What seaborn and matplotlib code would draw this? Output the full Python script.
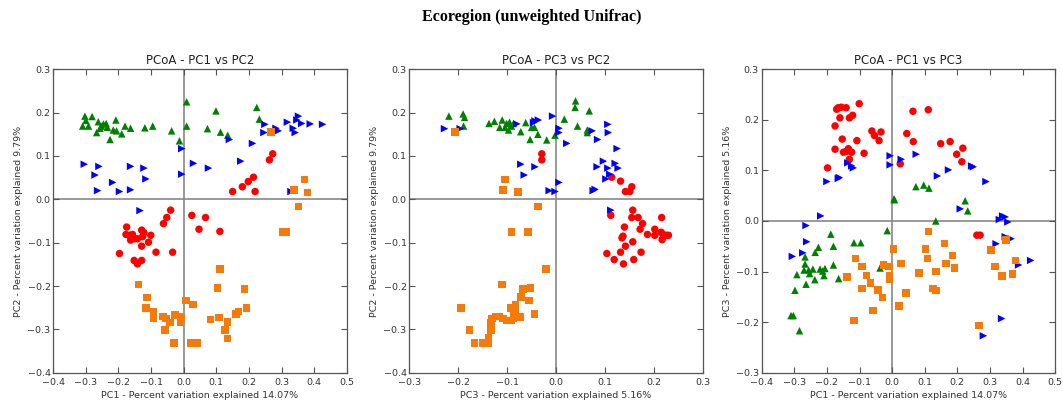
import matplotlib
matplotlib.use("Agg")
import matplotlib.pyplot as plt
import seaborn as sns
import pandas as pd

# ---------------- data ----------------
groups = ["red", "green", "blue", "orange"]
colors = {"red": "#ff0000", "green": "#008000", "blue": "#0000ff", "orange": "#f57a0a"}
markers = {"red": "o", "green": "^", "blue": ">", "orange": "s"}

panel_titles = ["PCoA - PC1 vs PC2", "PCoA - PC3 vs PC2", "PCoA - PC1 vs PC3"]
x_labels = ["PC1 - Percent variation explained 14.07%",
            "PC3 - Percent variation explained 5.16%",
            "PC1 - Percent variation explained 14.07%"]
y_labels = ["PC2 - Percent variation explained 9.79%",
            "PC2 - Percent variation explained 9.79%",
            "PC3 - Percent variation explained 5.16%"]
suptitle = "Ecoregion (unweighted Unifrac)"

# Panel 1: PC1 (x) vs PC2 (y)
p1_green_x = [-0.310, -0.303, -0.300, -0.292, -0.281, -0.267, -0.262, -0.257, -0.252, -0.246, -0.238,
              -0.234, -0.226, -0.216, -0.208, -0.206, -0.190, -0.180, -0.163, -0.119, -0.095, -0.037,
              -0.013, 0.009, 0.009, 0.073, 0.099, 0.113, 0.135, 0.224, 0.232]
p1_green_y = [0.169, 0.192, 0.182, 0.169, 0.191, 0.154, 0.179, 0.164, 0.169, 0.174, 0.175,
              0.166, 0.138, 0.160, 0.183, 0.158, 0.151, 0.169, 0.164, 0.165, 0.169, 0.158,
              0.135, 0.225, 0.169, 0.163, 0.204, 0.155, 0.148, 0.212, 0.185]
p1_blue_x = [-0.305, -0.260, -0.272, -0.264, -0.218, -0.197, -0.163, -0.163, -0.122, -0.116, -0.006,
             -0.006, 0.030, 0.076, 0.140, 0.175, 0.211, 0.246, 0.249, 0.283, 0.290, 0.318, 0.336,
             0.342, 0.347, 0.352, 0.362, 0.388, 0.426, 0.329, -0.134]
p1_blue_y = [0.081, 0.076, 0.056, 0.020, 0.039, 0.018, 0.076, 0.022, 0.072, 0.047, 0.117,
             0.058, 0.083, 0.072, 0.138, 0.088, 0.129, 0.154, 0.173, 0.164, 0.158, 0.178, 0.164,
             0.154, 0.183, 0.192, 0.175, 0.174, 0.173, 0.018, -0.026]
p1_red_x = [0.150, 0.180, 0.198, 0.214, 0.219, 0.263, 0.273, -0.040, -0.052, -0.062, 0.025, 0.067,
            0.047, 0.111, -0.175, -0.177, -0.165, -0.157, -0.163, -0.150, -0.142, -0.129, -0.122,
            -0.126, -0.101, -0.108, -0.129, -0.197, -0.152, -0.142, -0.129, -0.085, -0.034]
p1_red_y = [0.018, 0.029, 0.041, 0.051, 0.018, 0.091, 0.105, -0.025, -0.042, -0.056, -0.037, -0.042,
            -0.069, -0.074, -0.064, -0.081, -0.083, -0.081, -0.094, -0.091, -0.091, -0.071, -0.077,
            -0.086, -0.083, -0.099, -0.108, -0.125, -0.141, -0.149, -0.141, -0.122, -0.122]
p1_orange_x = [0.268, 0.339, 0.370, 0.380, 0.352, 0.304, 0.316, -0.138, -0.112, -0.116, -0.093,
               -0.093, -0.064, -0.055, -0.058, -0.042, -0.026, -0.008, -0.010, -0.030, 0.007, 0.029,
               0.022, 0.042, 0.112, 0.103, 0.109, 0.083, 0.126, 0.135, 0.135, 0.161, 0.168, 0.186, 0.193]
p1_orange_y = [0.155, 0.022, 0.046, 0.016, -0.017, -0.075, -0.075, -0.197, -0.226, -0.251, -0.260,
               -0.275, -0.270, -0.275, -0.301, -0.284, -0.267, -0.272, -0.283, -0.331, -0.233, -0.243,
               -0.331, -0.331, -0.161, -0.205, -0.273, -0.277, -0.302, -0.283, -0.321, -0.265, -0.259,
               -0.207, -0.251]

# Panel 2: PC3 (x) vs PC2 (y)
p2_green_x = [-0.219, -0.190, -0.187, -0.189, -0.137, -0.126, -0.115, -0.110, -0.104, -0.101, -0.097,
              -0.095, -0.091, -0.087, -0.072, -0.062, -0.053, -0.050, -0.044, -0.037, -0.019, -0.002,
              0.017, 0.039, 0.040, 0.044, 0.068, 0.064, 0.064]
p2_green_y = [0.192, 0.197, 0.189, 0.169, 0.175, 0.180, 0.166, 0.183, 0.166, 0.175, 0.160,
              0.178, 0.169, 0.175, 0.156, 0.177, 0.138, 0.166, 0.166, 0.150, 0.137, 0.148,
              0.185, 0.212, 0.227, 0.169, 0.204, 0.160, 0.154]
p2_blue_x = [-0.228, -0.196, -0.072, -0.065, -0.043, -0.080, -0.046, -0.043, -0.036, -0.007, 0.006,
             0.006, 0.022, 0.006, -0.014, -0.002, 0.074, 0.085, 0.106, 0.107, 0.125, 0.097, 0.106,
             0.084, 0.121, 0.127, 0.110, 0.102, 0.076, 0.080, 0.112]
p2_blue_y = [0.163, 0.163, 0.081, 0.056, 0.075, 0.174, 0.177, 0.181, 0.183, 0.192, 0.164,
             0.154, 0.129, 0.039, 0.020, 0.018, 0.158, 0.138, 0.173, 0.154, 0.117, 0.088, 0.072,
             0.075, 0.083, 0.072, 0.058, 0.047, 0.020, 0.023, -0.025]
p2_red_x = [-0.029, -0.029, 0.114, 0.132, 0.155, 0.142, 0.151, 0.112, 0.157, 0.155, 0.168, 0.177,
            0.140, 0.172, 0.187, 0.135, 0.137, 0.157, 0.142, 0.216, 0.202, 0.202, 0.215, 0.219,
            0.226, 0.230, 0.217, 0.104, 0.119, 0.132, 0.138, 0.159, 0.174]
p2_red_y = [0.105, 0.091, 0.051, 0.042, 0.029, 0.018, 0.018, -0.037, -0.025, -0.042, -0.042, -0.056,
            -0.064, -0.069, -0.081, -0.089, -0.085, -0.098, -0.108, -0.042, -0.069, -0.083, -0.076,
            -0.081, -0.083, -0.083, -0.093, -0.125, -0.139, -0.122, -0.149, -0.139, -0.122]
p2_orange_x = [-0.207, -0.104, -0.108, -0.078, -0.037, -0.091, -0.057, -0.020, -0.110, -0.067, -0.052,
               -0.055, -0.072, -0.044, -0.194, -0.177, -0.167, -0.149, -0.139, -0.138, -0.133, -0.133,
               -0.131, -0.124, -0.117, -0.108, -0.101, -0.092, -0.087, -0.084, -0.083, -0.093, -0.074,
               -0.087]
p2_orange_y = [0.155, 0.046, 0.022, 0.017, -0.017, -0.075, -0.075, -0.161, -0.197, -0.207, -0.205,
               -0.233, -0.225, -0.265, -0.251, -0.301, -0.331, -0.331, -0.331, -0.320, -0.301, -0.284,
               -0.275, -0.270, -0.270, -0.275, -0.280, -0.280, -0.274, -0.259, -0.243, -0.251, -0.272,
               -0.267]

# Panel 3: PC1 (x) vs PC3 (y)
p3_red_x = [-0.198, -0.175, -0.175, -0.170, -0.165, -0.160, -0.156, -0.153, -0.149, -0.141, -0.139,
            -0.134, -0.131, -0.131, -0.124, -0.121, -0.108, -0.101, -0.086, -0.062, -0.054, -0.040,
            -0.034, 0.025, 0.045, 0.064, 0.065, 0.111, 0.149, 0.178, 0.198, 0.214, 0.217, 0.260, 0.270]
p3_red_y = [0.105, 0.188, 0.142, 0.221, 0.224, 0.204, 0.225, 0.162, 0.136, 0.224, 0.138,
            0.143, 0.204, 0.122, 0.136, 0.209, 0.159, 0.232, 0.134, 0.178, 0.169, 0.159,
            0.176, 0.113, 0.173, 0.217, 0.157, 0.220, 0.153, 0.157, 0.132, 0.117, 0.144, -0.028, -0.028]
p3_blue_x = [-0.200, -0.165, -0.162, -0.136, -0.119, -0.124, -0.006, -0.006, 0.028, 0.074, 0.139,
             0.173, 0.244, 0.249, 0.288, 0.209, 0.329, 0.339, 0.347, 0.355, -0.219, -0.264, -0.262,
             -0.274, -0.306, 0.319, 0.347, 0.355, 0.365, 0.388, 0.425, 0.336, 0.280]
p3_blue_y = [0.078, 0.084, 0.086, 0.115, 0.105, 0.109, 0.129, 0.111, 0.122, 0.132, 0.089,
             0.101, 0.109, 0.107, 0.078, 0.024, 0.003, 0.010, 0.008, -0.002, 0.010, -0.009, -0.041,
             -0.063, -0.070, -0.045, -0.031, -0.034, -0.035, -0.087, -0.078, -0.193, -0.227]
p3_green_x = [0.006, 0.007, 0.073, 0.097, 0.113, 0.224, 0.232, 0.134, -0.015, -0.188, -0.180, -0.117,
              -0.096, -0.226, -0.236, -0.267, -0.267, -0.292, -0.270, -0.256, -0.243, -0.253, -0.221,
              -0.213, -0.206, -0.209, -0.180, -0.164, -0.237, -0.264, -0.298, -0.310, -0.303, -0.284,
              -0.037]
p3_green_y = [0.044, 0.042, 0.068, 0.071, 0.065, 0.040, 0.020, 0.000, -0.019, -0.026, -0.050, -0.043,
              -0.043, -0.052, -0.062, -0.071, -0.085, -0.106, -0.097, -0.097, -0.095, -0.104, -0.095,
              -0.099, -0.094, -0.108, -0.087, -0.114, -0.116, -0.125, -0.137, -0.187, -0.187, -0.217,
              -0.093]
p3_orange_x = [0.111, 0.004, -0.113, -0.093, -0.139, -0.093, -0.117, -0.078, -0.066, -0.043, -0.029,
               -0.027, -0.010, -0.008, -0.008, -0.059, 0.028, 0.042, 0.021, 0.083, 0.103, 0.108, 0.134,
               0.125, 0.135, 0.160, 0.165, 0.186, 0.191, 0.266, 0.303, 0.316, 0.337, 0.350, 0.370, 0.379]
p3_orange_y = [-0.021, -0.055, -0.074, -0.090, -0.111, -0.134, -0.197, -0.108, -0.123, -0.136, -0.151,
               -0.087, -0.090, -0.108, -0.116, -0.177, -0.084, -0.142, -0.168, -0.103, -0.055, -0.074,
               -0.100, -0.134, -0.137, -0.044, -0.084, -0.068, -0.093, -0.207, -0.057, -0.090, -0.109,
               -0.038, -0.105, -0.078]

panels = [
    {"red": (p1_red_x, p1_red_y), "green": (p1_green_x, p1_green_y),
     "blue": (p1_blue_x, p1_blue_y), "orange": (p1_orange_x, p1_orange_y)},
    {"red": (p2_red_x, p2_red_y), "green": (p2_green_x, p2_green_y),
     "blue": (p2_blue_x, p2_blue_y), "orange": (p2_orange_x, p2_orange_y)},
    {"red": (p3_red_x, p3_red_y), "green": (p3_green_x, p3_green_y),
     "blue": (p3_blue_x, p3_blue_y), "orange": (p3_orange_x, p3_orange_y)},
]
x_limits = [(-0.4, 0.5), (-0.3, 0.3), (-0.4, 0.5)]
y_limits = [(-0.4, 0.3), (-0.4, 0.3), (-0.3, 0.3)]
x_ticks = [[-0.4, -0.3, -0.2, -0.1, 0.0, 0.1, 0.2, 0.3, 0.4, 0.5],
           [-0.3, -0.2, -0.1, 0.0, 0.1, 0.2, 0.3],
           [-0.4, -0.3, -0.2, -0.1, 0.0, 0.1, 0.2, 0.3, 0.4, 0.5]]
y_ticks = [[-0.4, -0.3, -0.2, -0.1, 0.0, 0.1, 0.2, 0.3],
           [-0.4, -0.3, -0.2, -0.1, 0.0, 0.1, 0.2, 0.3],
           [-0.3, -0.2, -0.1, 0.0, 0.1, 0.2, 0.3]]

# ---------------- plot ----------------
sns.set_theme(style="ticks")
plt.rcParams["font.family"] = ["DejaVu Sans"]

fig = plt.figure(figsize=(10.63, 4.07), dpi=100)
lefts = [53.3 / 1063, 409.3 / 1063, 761.7 / 1063]
w = 293.4 / 1063
b = 1 - 372.7 / 407
h = 303.4 / 407

text_col = "#333333"
for i, pdata in enumerate(panels):
    ax = fig.add_axes([lefts[i], b, w, h])
    rows = []
    for g in groups:
        xs, ys = pdata[g]
        for xv, yv in zip(xs, ys):
            rows.append({"x": xv, "y": yv, "group": g})
    df = pd.DataFrame(rows)
    ax.axhline(0, color="#888888", lw=1.2, zorder=0)
    ax.axvline(0, color="#888888", lw=1.2, zorder=0)
    sns.scatterplot(data=df, x="x", y="y", hue="group", style="group",
                    palette=colors, markers=markers, hue_order=groups, style_order=groups,
                    s=29, linewidth=0, legend=False, ax=ax, zorder=3)
    ax.set_xlim(*x_limits[i])
    ax.set_ylim(*y_limits[i])
    ax.set_xticks(x_ticks[i])
    ax.set_yticks(y_ticks[i])
    ax.set_xticklabels([f"{t:.1f}".replace("-", "\u2212") for t in x_ticks[i]])
    ax.set_yticklabels([f"{t:.1f}".replace("-", "\u2212") for t in y_ticks[i]])
    ax.tick_params(direction="in", top=True, right=True, length=4, width=0.8,
                   labelsize=6.8, colors="#555555", labelcolor=text_col)
    ax.tick_params(axis="x", pad=4)
    ax.tick_params(axis="y", pad=2)
    for sp in ax.spines.values():
        sp.set_color("#555555")
        sp.set_linewidth(0.9)
    ax.set_xlabel(x_labels[i], fontsize=6.8, color=text_col, labelpad=3)
    ax.set_ylabel(y_labels[i], fontsize=6.8, color=text_col, labelpad=3)
    ax.set_title(panel_titles[i], fontsize=8.5, color="#222222", pad=4)

fig.text(0.5, 0.958, suptitle, ha="center", va="center", fontsize=11.5,
         fontweight="bold", family=["Liberation Serif", "DejaVu Serif"], color="black")

fig.savefig("out.png", dpi=100)
